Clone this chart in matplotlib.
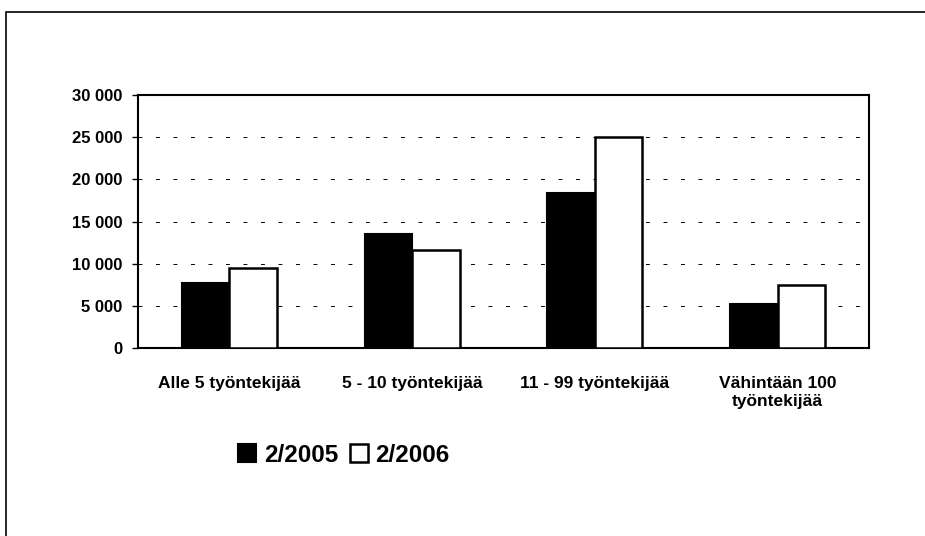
import numpy as np
import matplotlib
matplotlib.use('Agg')
import matplotlib.pyplot as plt
from matplotlib.patches import Rectangle

# Datos
categorias = ["Alle 5 työntekijää", "5 - 10 työntekijää", "11 - 99 työntekijää",
              "Vähintään 100\ntyöntekijää"]
valores_2005 = [7700, 13500, 18400, 5200]
valores_2006 = [9500, 11600, 25000, 7500]
series = ["2/2005", "2/2006"]
y_ticks = [0, 5000, 10000, 15000, 20000, 25000, 30000]
y_labels = ["0", "5 000", "10 000", "15 000", "20 000", "25 000", "30 000"]

plt.rcParams['font.family'] = ['Liberation Sans', 'DejaVu Sans']

fig = plt.figure(figsize=(9.25, 5.36), dpi=100)
ax = fig.add_axes([138 / 925, 1 - 348 / 536, 731 / 925, 253 / 536])

x = np.arange(len(categorias))
ancho = 0.26
b1 = ax.bar(x - ancho / 2, valores_2005, ancho, color='black', edgecolor='black',
            linewidth=1.5, label=series[0], zorder=3)
b2 = ax.bar(x + ancho / 2, valores_2006, ancho, color='white', edgecolor='black',
            linewidth=1.8, label=series[1], zorder=3)

ax.set_xlim(-0.5, len(categorias) - 0.5)
ax.set_ylim(0, 30000)
ax.set_yticks(y_ticks)
ax.set_yticklabels(y_labels, fontsize=12, fontweight='bold')
ax.set_xticks(x)
ax.set_xticklabels(categorias, fontsize=12.5, fontweight='bold', linespacing=1.3)
ax.tick_params(axis='x', length=0, pad=20)
ax.tick_params(axis='y', length=4, width=1, direction='out', pad=7)

# lineas de grilla (escaneadas, entrecortadas)
for v in y_ticks[1:-1]:
    ax.axhline(v, color='black', linewidth=0.7, linestyle=(0, (4, 14)), zorder=1)

for s in ax.spines.values():
    s.set_linewidth(1.5)
    s.set_color('black')

leg = fig.legend(handles=[b1, b2], labels=series, loc='center',
                 bbox_to_anchor=(344 / 925, 1 - 455 / 536), ncol=2, frameon=False,
                 prop={'size': 17.5, 'weight': 'bold'}, handlelength=0.75,
                 handleheight=0.75, handletextpad=0.3, columnspacing=0.5)

# marco exterior
fig.patches.append(Rectangle((6 / 925, -0.1), 1.2, 1 - 12 / 536 + 0.1,
                             transform=fig.transFigure, fill=False,
                             edgecolor='black', linewidth=1.2))

fig.savefig("out.png", dpi=100)
